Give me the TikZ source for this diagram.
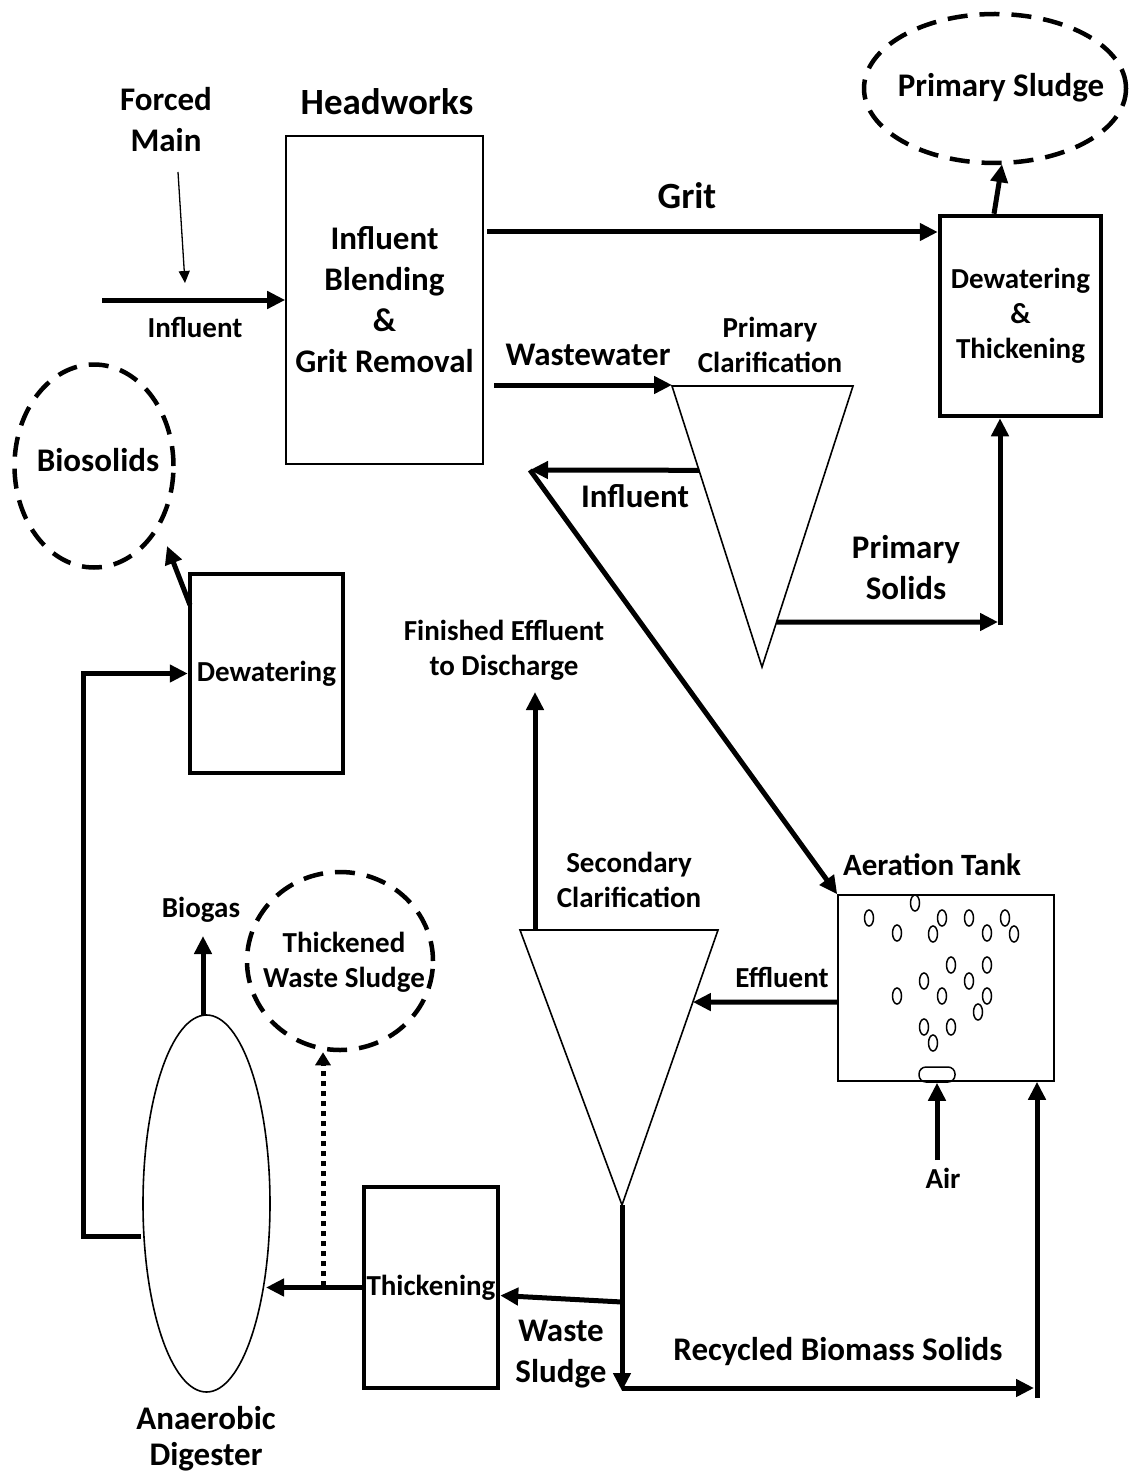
\documentclass[tikz,border=0pt]{standalone}
\usepackage{fontspec}
\setmainfont{Carlito}
\usetikzlibrary{arrows.meta,calc,shapes.geometric}
\newcommand\fbig{\fontsize{37}{44}\selectfont}
\newcommand\fmid{\fontsize{33}{41}\selectfont}
\newcommand\fsml{\fontsize{29}{35}\selectfont}
\begin{document}
\begin{tikzpicture}[x=1pt,y=-1pt,
  labs/.style={font=\bfseries\fsml, align=center, inner sep=0pt},
  labm/.style={font=\bfseries\fmid, align=center, inner sep=0pt},
  labb/.style={font=\bfseries\fbig, align=center, inner sep=0pt},
  thinbox/.style={draw, line width=1.6pt, inner sep=0pt, align=center},
  thickbox/.style={draw, line width=4.5pt, inner sep=0pt, align=center},
  flow/.style={line width=5pt, line join=miter, -{Triangle[length=18pt,width=17pt]}},
  thinflow/.style={line width=1.3pt, -{Triangle[length=12pt,width=11pt]}},
  dotflow/.style={line width=5pt, dash pattern=on 5pt off 5pt, -{Triangle[length=13pt,width=15pt]}},
  cloud/.style={draw, ellipse, line width=4.5pt, dash pattern=on 20pt off 12pt, inner sep=0pt},
  vessel/.style={line width=1.6pt, line join=miter},
  bubble/.style={draw, ellipse, line width=1.5pt, minimum width=9pt, minimum height=16pt, inner sep=0pt},
]
\useasboundingbox (0,0) rectangle (1134,1479);

% ---------- nodes ----------
\node[labm] (fm) at (166,120) {Forced\\Main};
\node[labb] (hwl) at (387,102) {Headworks};
\node[thinbox, font=\bfseries\fmid, minimum width=197pt, minimum height=328pt] (hw) at (384.5,300) {Influent\\Blending\\\&\\Grit Removal};
\node[labs] (inl) at (195,327) {Influent};
\node[labb] (gritl) at (687,196) {Grit};
\node[labm] (wwl) at (588,355) {Wastewater};
\node[labs] (pcl) at (770,345) {Primary\\Clarification};
\node[labm] (infl2) at (635,496) {Influent};
\node[labm] (psl) at (906,568) {Primary\\Solids};
\node[thickbox, font=\bfseries\fsml, minimum width=161pt, minimum height=200pt] (dt) at (1020.5,316) {Dewatering\\\&\\Thickening};
\node[cloud, minimum width=262pt, minimum height=149pt] (ps) at (995,88.5) {};
\node[labm] (psl2) at (1001,88) {Primary Sludge};
\node[cloud, minimum width=159pt, minimum height=203pt] (bs) at (94,466) {};
\node[labm] (bsl) at (98,460) {Biosolids};
\node[thickbox, font=\bfseries\fsml, minimum width=153pt, minimum height=199pt] (dw) at (266.5,673.5) {Dewatering};
\node[labs] (fel) at (504,650) {Finished Effluent\\to Discharge};
\node[labs] (scl) at (629,880) {Secondary\\Clarification};
\node[font=\bfseries\fontsize{31}{37}\selectfont, inner sep=0pt] (atl) at (932,865) {Aeration Tank};
\node[thinbox, minimum width=216pt, minimum height=186pt] (at) at (946,988) {};
\node[labs] (efl) at (782,977) {Effluent};
\node[labs] (airl) at (943,1178) {Air};
\node[draw, line width=1.5pt, rounded corners=7pt, minimum width=36pt, minimum height=15pt, inner sep=0pt] (df) at (937,1074.5) {};
\node[labm] (rbl) at (838,1351) {Recycled Biomass Solids};
\node[labm] (wsl) at (561,1354) {Waste\\Sludge};
\node[thickbox, font=\bfseries\fsml, minimum width=134pt, minimum height=201pt] (th) at (431,1287.5) {Thickening};
\node[cloud, minimum width=186pt, minimum height=178pt] (tw) at (340,961) {};
\node[labs] (twl) at (344,962) {Thickened\\Waste Sludge};
\node[labs] (bgl) at (201,910) {Biogas};
\node[draw, ellipse, line width=1.6pt, minimum width=127pt, minimum height=377pt, inner sep=0pt] (ad) at (206.5,1203.5) {};
\node[font=\bfseries\fmid, align=center, inner sep=0pt, execute at begin node=\setlength{\baselineskip}{36pt}] (adl) at (206,1439) {Anaerobic\\Digester};

% bubbles
\foreach \bx/\by in {915/903, 869/918, 897/933, 942/918, 933/934, 969/918, 987/933, 1005/918, 1014/934,
  951/965, 987/965, 924/981, 969/981, 897/996, 942/996, 987/996, 978/1012, 924/1027, 951/1027, 933/1043}
  \node[bubble] at (\bx,\by) {};

% clarifiers
\coordinate (p1) at (672,386); \coordinate (p2) at (853,386); \coordinate (p3) at (762,667);
\draw[vessel] (p1) -- (p2) -- (p3) -- cycle;
\coordinate (s1) at (520,930); \coordinate (s2) at (718,930); \coordinate (s3) at (622,1205);
\draw[vessel] (s1) -- (s2) -- (s3) -- cycle;

% ---------- connectors ----------
\coordinate (fm0) at (178,172); \coordinate (fm1) at (185,283);
\draw[thinflow] (fm0) -- (fm1);
\coordinate (in0) at (102,300);
\draw[flow] (in0) -- (hw.west);
\coordinate (g0) at (487,232);
\draw[flow] (g0) -- (g0 -| dt.west);
\coordinate (w0) at (494,385);
\draw[flow] (w0) -- (w0 -| p1);
% influent to aeration
\coordinate (pin) at ($(p1)!0.3!(p3)$);
\coordinate (ib) at (530,470);
\draw[flow] (pin) -- (ib);
\draw[flow] (ib) -- (at.north west);
% primary solids
\coordinate (psol) at ($(p2)!0.84!(p3)$);
\coordinate (pc) at (998,622);
\draw[flow] (psol) -- (pc);
\coordinate (pc2) at (1000,625);
\draw[flow] (pc2) -- (pc2 |- dt.south);
% to primary sludge
\coordinate (dtt) at ($(dt.north west)!0.34!(dt.north east)$);
\draw[flow] (dtt) -- ([xshift=7pt,yshift=1pt]ps.south);
% dewatering to biosolids
\coordinate (dwb) at (190,605); \coordinate (bst) at (167,546);
\draw[flow] (dwb) -- (bst);
% digester to dewatering
\coordinate (adw) at (141,1236); \coordinate (lk) at (83,674);
\draw[flow] (adw) -| (lk) |- (dw.west);
% finished effluent
\coordinate (fe0) at (535,930); \coordinate (fe1) at (535,692);
\draw[flow] (fe0) -- (fe1);
% effluent
\coordinate (ef0) at (837,1002);
\coordinate (sef) at ($(s2)!0.262!(s3)$);
\draw[flow] (ef0) -- (sef);
% air
\coordinate (air0) at (937,1160);
\draw[flow] (air0) -- (df.south);
% recycle
\coordinate (rb) at (622,1391);
\draw[flow] (s3) -- (rb);
\coordinate (rb2) at (622,1388); \coordinate (rc) at (1034,1388);
\draw[flow] (rb2) -- (rc);
\coordinate (rv) at (1037,1398);
\draw[flow] (rv) -- (rv |- at.south);
% waste sludge
\coordinate (ws0) at (622,1302);
\draw[flow] (ws0) -- ([yshift=-8pt]th.east);
% thickening to digester
\coordinate (adt) at (266,1287.5);
\draw[flow] (th.west) -- (adt);
% thickened waste sludge (dotted)
\coordinate (dot0) at (323,1286);
\draw[dotflow] (dot0) -- (dot0 |- tw.south);
% biogas
\coordinate (bg0) at (203,1016); \coordinate (bg1) at (203,936);
\draw[flow] (bg0) -- (bg1);
\end{tikzpicture}
\end{document}
